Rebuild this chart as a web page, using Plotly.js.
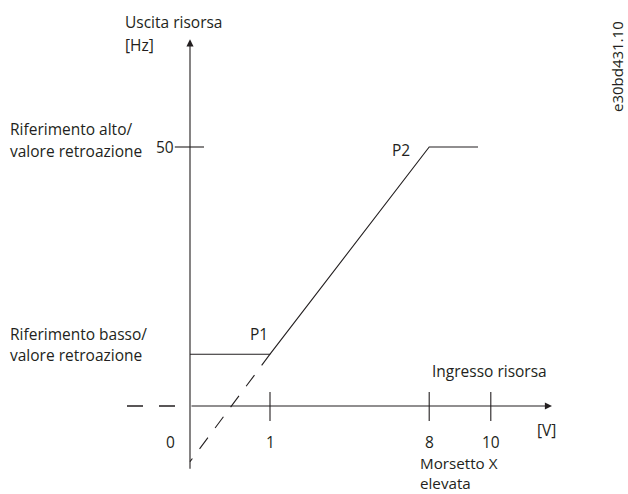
<!DOCTYPE html>
<html>
<head>
<meta charset="utf-8">
<script src="https://cdn.plot.ly/plotly-3.0.1.min.js"></script>
<style>
html,body{margin:0;padding:0;background:#fff;}
#chart{width:628px;height:494px;}
</style>
</head>
<body>
<div id="chart"></div>
<script>
// ---- data (schematic diagram) ----
// x positions on the drawing are schematic (not to scale); labels carry the real volts
const xTickLabels = ['0', '1', '8', '10'];
const xTickPos = [0, 1, 2.99, 3.76];
const yTickLabels = ['50'];
const yTickPos = [50];
// characteristic: low reference 10 Hz at 1 V (P1), high reference 50 Hz at 8 V (P2)
const curveX = [0, 1, 2.99, 3.6];
const curveY = [10, 10, 50, 50];
// dashed extension of the ramp below P1
const extX = [1, 0];
const extY = [10, -10.75];
// dashed negative part of the x axis
const negX = [-0.7875, -0.175];
const negY = [0, 0];
const pointLabels = ['P1', 'P2'];

// ---- layout helpers ----
const W = 628, H = 494;
const ink = '#231f20';
const font = {family: 'Open Sans, sans-serif', size: 15.5, color: ink};
const px = x => x / W;
const py = y => 1 - y / H;
const xr = [-190 / 80, (W - 190) / 80];
const yr = [-(H - 406) / 5.18, 406 / 5.18];

const traces = [
  {x: curveX, y: curveY, mode: 'lines', line: {color: ink, width: 1.1}, hoverinfo: 'skip'},
  {x: extX, y: extY, mode: 'lines', line: {color: ink, width: 1.1, dash: '14px,12px'}, hoverinfo: 'skip'},
  {x: negX, y: negY, mode: 'lines', line: {color: ink, width: 1.3, dash: '16px,16px'}, hoverinfo: 'skip'}
];

const shapes = [];
// x ticks (crossing the axis)
xTickPos.slice(1).forEach(v => shapes.push({type: 'line', xref: 'x', yref: 'y', x0: v, x1: v, y0: 2.7, y1: -2.9, line: {color: ink, width: 1.1}}));
// y ticks
yTickPos.forEach(v => shapes.push({type: 'line', xref: 'x', yref: 'y', x0: -0.19, x1: 0.175, y0: v, y1: v, line: {color: ink, width: 1.1}}));

const ann = [];
// axes with arrows
ann.push({x: 4.525, y: 0, ax: 0, ay: 0, xref: 'x', yref: 'y', axref: 'x', ayref: 'y', text: '', showarrow: true, arrowhead: 2, arrowsize: 1.3, arrowwidth: 1.1, arrowcolor: ink});
ann.push({x: 0, y: 70.8, ax: 0, ay: -12.4, xref: 'x', yref: 'y', axref: 'x', ayref: 'y', text: '', showarrow: true, arrowhead: 2, arrowsize: 1.3, arrowwidth: 1.1, arrowcolor: ink});
// x tick labels
xTickLabels.forEach((t, i) => ann.push({x: i === 0 ? -0.25 : xTickPos[i], y: py(442), xref: 'x', yref: 'paper', text: t, showarrow: false, font: font, xanchor: 'center', yanchor: 'middle', borderpad: 0}));
// y tick labels
yTickLabels.forEach((t, i) => ann.push({x: px(175), y: yTickPos[i], xref: 'paper', yref: 'y', text: t, showarrow: false, font: font, xanchor: 'right', yanchor: 'middle', borderpad: 0}));
// point labels
ann.push({x: px(259), y: py(334), xref: 'paper', yref: 'paper', text: pointLabels[0], showarrow: false, font: font, xanchor: 'center', yanchor: 'middle', borderpad: 0});
ann.push({x: px(401), y: py(150), xref: 'paper', yref: 'paper', text: pointLabels[1], showarrow: false, font: font, xanchor: 'center', yanchor: 'middle', borderpad: 0});

const texts = [
  ['Uscita risorsa', 124, 22, 'middle', 15.5],
  ['[Hz]', 124, 45, 'middle', 15.5],
  ['Riferimento alto/', 9, 129, 'middle', 15.5],
  ['valore retroazione', 9, 151, 'middle', 15.5],
  ['Riferimento basso/', 9, 334, 'middle', 15.5],
  ['valore retroazione', 9, 355, 'middle', 15.5],
  ['Ingresso risorsa', 431, 371, 'middle', 15.5],
  ['[V]', 536, 430, 'middle', 15.5],
  ['Morsetto X<br>elevata', 419, 494, 'bottom', 15.2]
];
texts.forEach(t => ann.push({x: px(t[1]), y: py(t[2]), xref: 'paper', yref: 'paper', text: t[0], showarrow: false,
  font: {family: font.family, size: t[4], color: ink}, xanchor: 'left', yanchor: t[3], align: 'left', borderpad: 0}));
ann.push({x: px(617), y: py(67), xref: 'paper', yref: 'paper', text: 'e30bd431.10', textangle: -90, showarrow: false, font: {family: 'Open Sans, sans-serif', size: 15, color: ink}, xanchor: 'center', yanchor: 'middle', borderpad: 0});

const layout = {
  width: W, height: H,
  margin: {l: 0, r: 0, t: 0, b: 0},
  paper_bgcolor: '#fff', plot_bgcolor: '#fff',
  showlegend: false,
  xaxis: {range: xr, visible: false, fixedrange: true},
  yaxis: {range: yr, visible: false, fixedrange: true},
  shapes: shapes,
  annotations: ann
};

Plotly.newPlot('chart', traces, layout, {staticPlot: true, displayModeBar: false});
</script>
</body>
</html>
